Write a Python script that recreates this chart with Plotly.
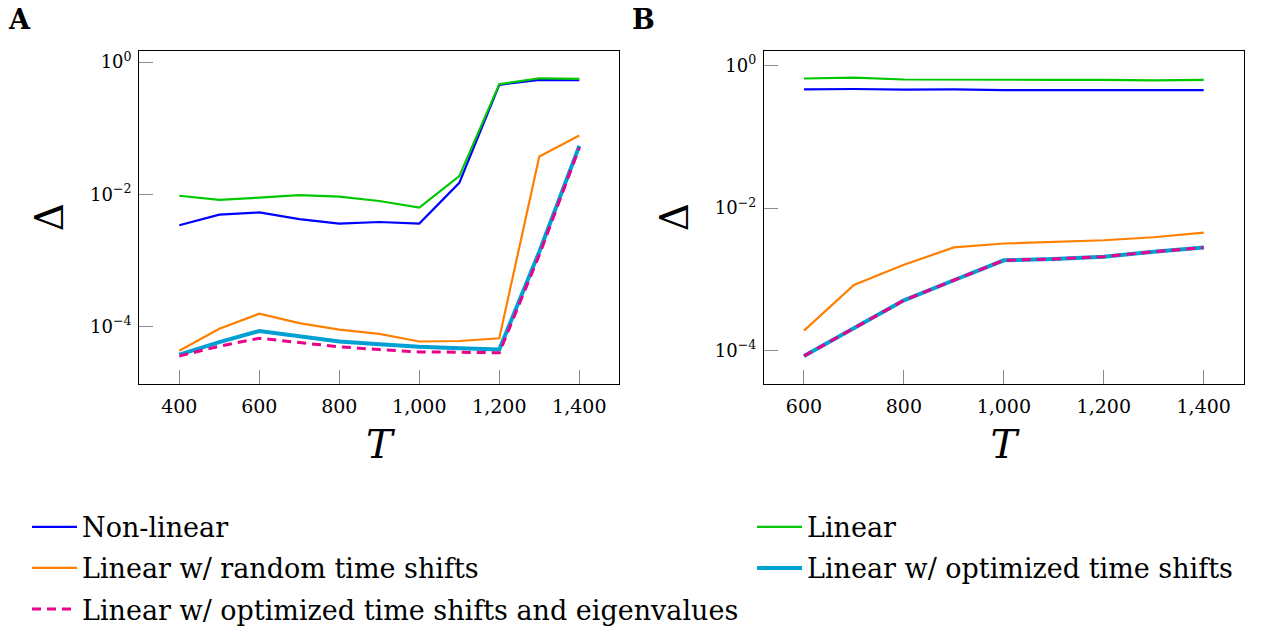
import plotly.graph_objects as go

# ---------------- data ----------------
T_a = [400, 500, 600, 700, 800, 900, 1000, 1100, 1200, 1300, 1400]
nonlinear_a = [0.0034, 0.0049, 0.0053, 0.0042, 0.0036, 0.0038, 0.0036, 0.0149, 0.454, 0.538, 0.532]
linear_a = [0.0095, 0.0082, 0.0089, 0.0097, 0.0092, 0.0079, 0.0063, 0.0188, 0.464, 0.570, 0.557]
random_a = [4.28e-5, 9.2e-5, 1.55e-4, 1.12e-4, 8.9e-5, 7.7e-5, 5.9e-5, 6.0e-5, 6.6e-5, 0.0373, 0.0777]
optshift_a = [3.73e-5, 5.76e-5, 8.5e-5, 7.1e-5, 5.9e-5, 5.35e-5, 4.9e-5, 4.65e-5, 4.45e-5, 1.35e-3, 0.054]
opteig_a = [3.56e-5, 5.0e-5, 6.6e-5, 5.7e-5, 4.9e-5, 4.45e-5, 4.1e-5, 4.06e-5, 3.97e-5, 1.2e-3, 0.051]

T_b = [600, 700, 800, 900, 1000, 1100, 1200, 1300, 1400]
nonlinear_b = [0.461, 0.466, 0.456, 0.461, 0.451, 0.451, 0.451, 0.442, 0.451]
linear_b = [0.654, 0.675, 0.634, 0.627, 0.621, 0.627, 0.627, 0.614, 0.627]
random_b = [1.91e-4, 8.35e-4, 1.6e-3, 2.8e-3, 3.18e-3, 3.32e-3, 3.53e-3, 3.89e-3, 4.51e-3]
optshift_b = [8.4e-5, 2.08e-4, 5.07e-4, 9.7e-4, 1.85e-3, 1.93e-3, 2.08e-3, 2.44e-3, 2.8e-3]
opteig_b = [8.4e-5, 2.08e-4, 5.07e-4, 9.7e-4, 1.85e-3, 1.93e-3, 2.08e-3, 2.44e-3, 2.8e-3]

series_names = ["Non-linear", "Linear", "Linear w/ random time shifts",
                "Linear w/ optimized time shifts",
                "Linear w/ optimized time shifts and eigenvalues"]
y_tickvals = [1, 1e-2, 1e-4]
y_ticktext = ["10<sup>0</sup>", "10<sup>−2</sup>", "10<sup>−4</sup>"]
xa_tickvals = [400, 600, 800, 1000, 1200, 1400]
xb_tickvals = [600, 800, 1000, 1200, 1400]

# ---------------- styles ----------------
styles = [
    dict(color="rgb(0,0,255)", width=2.2, dash="solid"),
    dict(color="rgb(0,200,0)", width=2.2, dash="solid"),
    dict(color="rgb(255,128,0)", width=2.2, dash="solid"),
    dict(color="rgb(0,160,210)", width=4, dash="solid"),
    dict(color="rgb(235,0,140)", width=3, dash="9px,6px"),
]
legend_of = ["legend", "legend2", "legend", "legend2", "legend"]

data_a = [nonlinear_a, linear_a, random_a, optshift_a, opteig_a]
data_b = [nonlinear_b, linear_b, random_b, optshift_b, opteig_b]

FONT = "DejaVu Serif"
fig = go.Figure()
for i, name in enumerate(series_names):
    fig.add_trace(go.Scatter(x=T_a, y=data_a[i], mode="lines", name=name,
                             line=styles[i], legendgroup=name, legend=legend_of[i],
                             xaxis="x", yaxis="y", showlegend=True))
for i, name in enumerate(series_names):
    fig.add_trace(go.Scatter(x=T_b, y=data_b[i], mode="lines", name=name,
                             line=styles[i], legendgroup=name, legend=legend_of[i],
                             xaxis="x2", yaxis="y2", showlegend=False))

W, H = 1261, 634
axA = (139.3, 619.3)
axB = (764.0, 1243.7)
ytop, ybot = 49.3, 387.3

common_x = dict(showgrid=False, zeroline=False, showline=True, mirror=True,
                linecolor="black", linewidth=1.3, ticks="inside", ticklen=14,
                tickcolor="#8c8c8c", tickwidth=1, tickformat=",",
                tickfont=dict(family=FONT, size=19, color="black"),
                ticklabelstandoff=5,
                title=dict(text="<i>T</i>", font=dict(family=FONT, size=40, color="black"),
                           standoff=14))
common_y = dict(type="log", showgrid=False, zeroline=False, showline=True, mirror=True,
                linecolor="black", linewidth=1.3, ticks="inside", ticklen=14,
                tickcolor="#8c8c8c", tickwidth=1,
                tickvals=y_tickvals, ticktext=y_ticktext,
                tickfont=dict(family=FONT, size=18, color="black"),
                ticklabelstandoff=3,
                title=dict(text="Δ", font=dict(family=FONT, size=39, color="black"),
                           standoff=14))

fig.update_layout(
    width=W, height=H,
    margin=dict(l=0, r=0, t=0, b=0),
    paper_bgcolor="white", plot_bgcolor="white",
    xaxis=dict(common_x, domain=[axA[0] / W, axA[1] / W], range=[300, 1500],
               tickvals=xa_tickvals, anchor="y"),
    yaxis=dict(common_y, domain=[1 - ybot / H, 1 - ytop / H], range=[-4.87, 0.175],
               anchor="x"),
    xaxis2=dict(common_x, domain=[axB[0] / W, axB[1] / W], range=[520, 1480],
                tickvals=xb_tickvals, anchor="y2"),
    yaxis2=dict(common_y, domain=[1 - ybot / H, 1 - ytop / H], range=[-4.465, 0.207],
                anchor="x2"),
    legend=dict(x=27 / W, y=1 - 508 / H, xanchor="left", yanchor="top",
                font=dict(family=FONT, size=27, color="black"),
                tracegroupgap=3, itemwidth=45, bgcolor="rgba(0,0,0,0)"),
    legend2=dict(x=752 / W, y=1 - 508 / H, xanchor="left", yanchor="top",
                 font=dict(family=FONT, size=27, color="black"),
                 tracegroupgap=3, itemwidth=45, bgcolor="rgba(0,0,0,0)"),
    annotations=[
        dict(text="<b>A</b>", x=6 / W, y=1.0, xref="paper", yref="paper",
             xanchor="left", yanchor="top", showarrow=False,
             font=dict(family=FONT, size=27, color="black")),
        dict(text="<b>B</b>", x=630 / W, y=1.0, xref="paper", yref="paper",
             xanchor="left", yanchor="top", showarrow=False,
             font=dict(family=FONT, size=27, color="black")),
    ],
)

fig.write_html("out.html")
